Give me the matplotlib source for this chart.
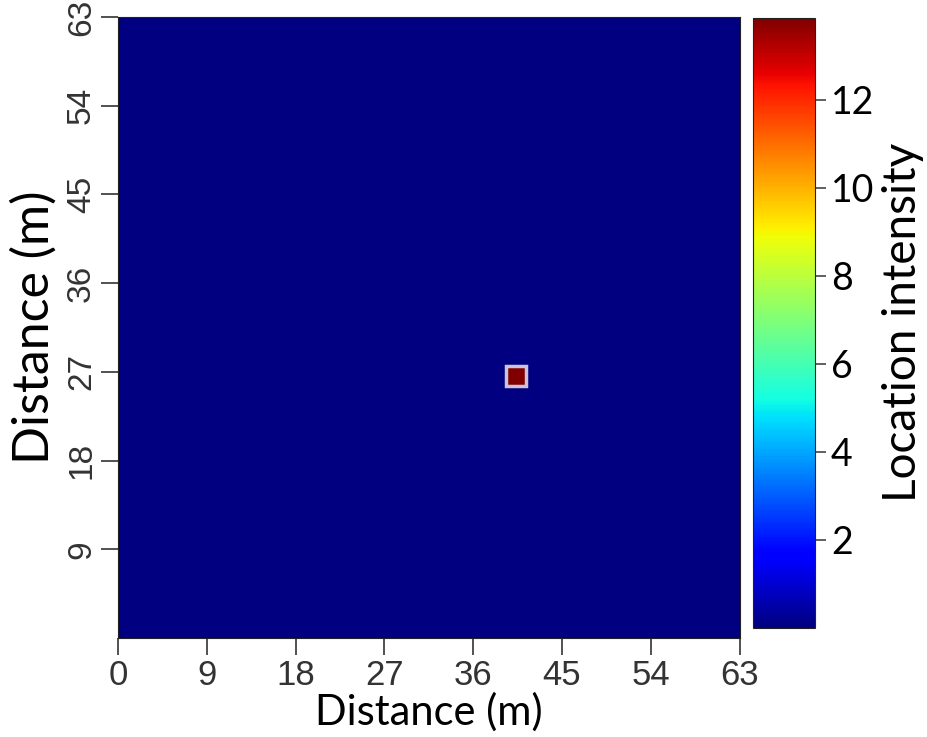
import matplotlib.pyplot as plt
import numpy as np
from matplotlib.patches import Rectangle
from matplotlib.transforms import ScaledTranslation

# 64 x 64 grid over 0..63 m, a small hot spot near (40.5, 26.5)
n_cells = 64
extent_max = 63
peak_cols = [40, 41]
peak_rows = [26, 27]
peak_value = 13.86
tick_vals = [0, 9, 18, 27, 36, 45, 54, 63]
cbar_ticks = [2, 4, 6, 8, 10, 12]

intensity = np.zeros((n_cells, n_cells))
for r in peak_rows:
    for c in peak_cols:
        intensity[r, c] = peak_value
edges = np.linspace(0, extent_max, n_cells + 1)

fig = plt.figure(figsize=(9.28, 7.37), dpi=100)
ax = fig.add_axes([0.127, 0.134, 0.670, 0.843])
cax = fig.add_axes([0.811, 0.148, 0.067, 0.828])

mesh = ax.pcolormesh(edges, edges, intensity, cmap='jet', vmin=0, vmax=peak_value)

# light rim around the hot spot, as in the original rendering
x0, x1 = edges[min(peak_cols)], edges[max(peak_cols) + 1]
y0, y1 = edges[min(peak_rows)], edges[max(peak_rows) + 1]
ax.add_patch(Rectangle((x0, y0), x1 - x0, y1 - y0, fill=False,
                       edgecolor='#c9c3dc', linewidth=2.5))

ax.set_xlim(0, extent_max)
ax.set_ylim(0, extent_max)
ax.set_xticks(tick_vals)
ax.set_yticks(tick_vals[1:])
ax.set_xticklabels([str(t) for t in tick_vals], fontsize=25, color='#333333',
                   family='Liberation Sans')
ylabels = ax.set_yticklabels([str(t) for t in tick_vals[1:]], fontsize=24,
                             color='#333333', family='Liberation Sans',
                             rotation=90, va='center')
# nudge the top label down so it stays inside the canvas
ylabels[-1].set_transform(ylabels[-1].get_transform() +
                          ScaledTranslation(0, -3 / 72, fig.dpi_scale_trans))
ax.tick_params(axis='both', length=12, width=1.2, color='#333333', pad=3)
for s in ax.spines.values():
    s.set_color('#222222')

ax.set_xlabel('Distance (m)', fontsize=30, family='Lato', labelpad=0)
ax.set_ylabel('Distance (m)', fontsize=36, family='Lato', labelpad=6)

cb = fig.colorbar(mesh, cax=cax)
cb.set_ticks(cbar_ticks)
cb.ax.tick_params(labelsize=27, length=8, width=1.2, color='#444444')
for lbl in cb.ax.get_yticklabels():
    lbl.set_family('Lato')
cb.set_label('Location intensity', fontsize=33, family='Lato', labelpad=6)
cb.outline.set_edgecolor('#222222')

fig.savefig('out.png', dpi=100)
